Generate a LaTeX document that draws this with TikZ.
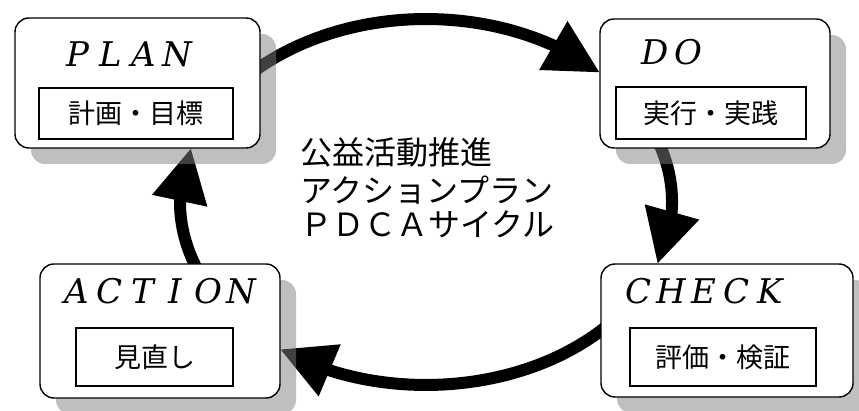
\documentclass[tikz,border=0pt]{standalone}
\usepackage{fontspec}
\setmainfont{DejaVu Serif}
\newfontfamily\jpfont{Noto Sans CJK JP}
\usetikzlibrary{arrows.meta,bending,shadows,backgrounds}
\newcommand\pdcaletter[1]{\makebox[33pt]{#1}}
\begin{document}
\begin{tikzpicture}[x=1pt,y=1pt,
  stagebox/.style={draw=black, line width=1.4pt, fill=white, rounded corners=14pt, inner sep=0pt,
     general shadow={fill=gray, opacity=0.5, shadow xshift=16pt, shadow yshift=-16pt}},
  taskbox/.style={draw=black, line width=1.4pt, fill=white, inner sep=0pt,
     font=\jpfont\fontsize{27}{27}\selectfont},
  stagetitle/.style={anchor=base, inner sep=0pt, font=\itshape\fontsize{34}{34}\selectfont},
  cyclearrow/.style={line width=12pt, -{Triangle[length=54pt,width=53pt]}},
  centretext/.style={anchor=base west, inner sep=0pt, font=\jpfont\fontsize{32}{32}\selectfont}
]
\useasboundingbox (0,0) rectangle (859,410);

% stage boxes
\node[stagebox, minimum width=245pt, minimum height=130pt] (plan) at (137.5,327) {};
\node[stagebox, minimum width=230pt, minimum height=129pt] (do) at (715,326.5) {};
\node[stagebox, minimum width=240pt, minimum height=134pt] (action) at (160,79) {};
\node[stagebox, minimum width=252pt, minimum height=133pt] (check) at (727,79.5) {};

% titles
\node[stagetitle] (plantitle) at (127.5,343) {\pdcaletter{P}\pdcaletter{L}\pdcaletter{A}\pdcaletter{N}};
\node[stagetitle] (dotitle) at (672,345) {\pdcaletter{D}\pdcaletter{O}};
\node[stagetitle] (actiontitle) at (159,107) {\pdcaletter{A}\pdcaletter{C}\pdcaletter{T}\pdcaletter{I}\pdcaletter{O}\pdcaletter{N}};
\node[stagetitle] (checktitle) at (704,107) {\pdcaletter{C}\pdcaletter{H}\pdcaletter{E}\pdcaletter{C}\pdcaletter{K}};

% task boxes
\node[taskbox, minimum width=194pt, minimum height=51pt] (plantask) at (136,296.5) {計画・目標};
\node[taskbox, minimum width=190pt, minimum height=52pt] (dotask) at (711,297) {実行・実践};
\node[taskbox, minimum width=157pt, minimum height=58pt] (actiontask) at (154.5,53) {見直し};
\node[taskbox, minimum width=186pt, minimum height=58pt] (checktask) at (723,53) {評価・検証};

% centre text
\node[centretext] (t1) at (300,245) {公益活動推進};
\node[centretext] (t2) at (300,207) {アクションプラン};
\node[centretext] (t3) at (300,173) {ＰＤＣＡサイクル};

% cycle arrows (behind the shadows and boxes)
\begin{scope}[on background layer]
\coordinate (plancycle) at (237.6,325.6);
\coordinate (docycle) at (657.2,270.6);
\coordinate (checkcycle) at (614.4,90.4);
\coordinate (actioncycle) at (197.9,139.4);
\draw[cyclearrow] (plancycle) arc[start angle=140, end angle=45, x radius=246, y radius=183];
\draw[cyclearrow] (docycle) arc[start angle=20, end angle=-19.8, x radius=246, y radius=183];
\draw[cyclearrow] (checkcycle) arc[start angle=-40, end angle=-126.4, x radius=246, y radius=183];
\draw[cyclearrow] (actioncycle) arc[start angle=-158, end angle=-197.2, x radius=246, y radius=183];
\end{scope}
\end{tikzpicture}
\end{document}
